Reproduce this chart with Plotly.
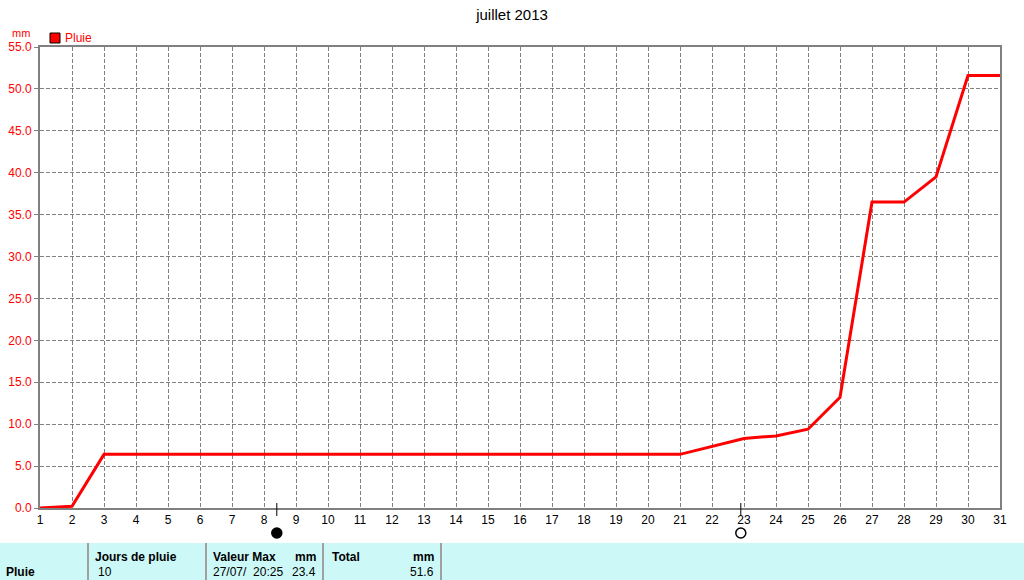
import plotly.graph_objects as go

# cumulative rain, July 2013
days = [1, 2, 3, 21, 23, 24, 25, 26, 27, 28, 29, 30, 31]
rain_mm = [0.0, 0.2, 6.4, 6.4, 8.3, 8.6, 9.4, 13.2, 36.5, 36.5, 39.5, 51.6, 51.6]

x_ticks = list(range(1, 32))
y_ticks = [0, 5, 10, 15, 20, 25, 30, 35, 40, 45, 50, 55]

# moon phases: new moon 8th, full moon 22nd-23rd
moon_days = [8.4, 22.9]
moon_filled = [True, False]

# summary table
table_headers = ["Jours de pluie", "Valeur Max", "mm", "Total", "mm"]
table_values = ["10", "27/07/  20:25", "23.4", "", "51.6"]

W, H = 1024, 580
L, R, T, B = 40, 1000, 47, 508


def px(x):
    return (x - L) / (R - L)


def py(y):
    return (B - y) / (B - T)


fig = go.Figure()

fig.add_trace(go.Scatter(
    x=days, y=rain_mm, mode="lines",
    line=dict(color="#ff0000", width=3),
    showlegend=False, hoverinfo="x+y"
))

shapes = []
# moon tick marks + moon symbols under the axis
for d, filled in zip(moon_days, moon_filled):
    shapes.append(dict(type="line", xref="x", yref="paper", x0=d, x1=d,
                       y0=py(503), y1=py(516), line=dict(color="black", width=1)))
    shapes.append(dict(type="circle", xref="x", yref="paper",
                       xsizemode="pixel", ysizemode="pixel",
                       xanchor=d, yanchor=py(533), x0=-5, x1=5, y0=-5, y1=5,
                       fillcolor="black" if filled else "white",
                       line=dict(color="black", width=1.5)))

# legend square
shapes.append(dict(type="rect", xref="paper", yref="paper",
                   x0=px(50), x1=px(60), y0=py(43), y1=py(33),
                   fillcolor="#ff0000", line=dict(color="black", width=1)))

# table background
shapes.append(dict(type="rect", xref="paper", yref="paper",
                   x0=px(0), x1=px(W), y0=py(H), y1=py(543),
                   fillcolor="#ccf8f8", line=dict(width=0), layer="below"))
for xs in [88, 206, 323, 441]:
    shapes.append(dict(type="line", xref="paper", yref="paper",
                       x0=px(xs), x1=px(xs), y0=py(H), y1=py(543),
                       line=dict(color="#a0a0a0", width=2)))

annotations = [
    dict(text="mm", x=px(21), y=py(33), xref="paper", yref="paper",
         xanchor="center", yanchor="middle",
         showarrow=False, font=dict(color="#ff0000", size=11)),
    dict(text="Pluie", x=px(63), y=py(38), xref="paper", yref="paper",
         xanchor="left", yanchor="middle",
         showarrow=False, font=dict(color="#ff0000", size=12)),
    dict(text="<b>Pluie</b>", x=px(4), y=py(572), xref="paper", yref="paper",
         xanchor="left", yanchor="middle",
         showarrow=False, font=dict(color="black", size=12)),
]

header_x = [93, 211, 318, 330, 436]
value_x = [96, 211, 318, None, 436]
for i, h in enumerate(table_headers):
    anchor = "right" if h == "mm" else "left"
    annotations.append(dict(text="<b>" + h + "</b>", x=px(header_x[i]), y=py(557),
                            xref="paper", yref="paper", xanchor=anchor,
                            yanchor="middle",
                            showarrow=False, font=dict(color="black", size=12)))
for i, v in enumerate(table_values):
    if not v:
        continue
    anchor = "left" if i < 2 else "right"
    annotations.append(dict(text=v, x=px(value_x[i]), y=py(572),
                            xref="paper", yref="paper", xanchor=anchor,
                            yanchor="middle",
                            showarrow=False, font=dict(color="black", size=12)))

fig.update_layout(
    width=W, height=H,
    margin=dict(l=L, r=W - R, t=T, b=H - B, autoexpand=False),
    paper_bgcolor="white", plot_bgcolor="white",
    font=dict(family="Liberation Sans, Arial, sans-serif", size=12),
    title=dict(text="juillet 2013", x=0.5, xanchor="center", y=1 - 15 / H,
               yanchor="middle", font=dict(size=15, color="black")),
    shapes=shapes, annotations=annotations,
    showlegend=False,
)

fig.update_xaxes(
    range=[1, 31], tickvals=x_ticks, ticktext=[str(t) for t in x_ticks],
    showgrid=True, gridcolor="#808080", griddash="4px,2px", gridwidth=1,
    showline=True, linecolor="#808080", linewidth=2, mirror=True,
    zeroline=False, ticks="", tickfont=dict(color="black", size=12),
    automargin=False,
)
fig.update_yaxes(
    range=[0, 55], tickvals=y_ticks, ticktext=["%.1f" % t for t in y_ticks],
    showgrid=True, gridcolor="#808080", griddash="4px,2px", gridwidth=1,
    showline=True, linecolor="#808080", linewidth=2, mirror=True,
    zeroline=False, ticks="outside", ticklen=4, tickcolor="#808080",
    tickfont=dict(color="#ff0000", size=12), automargin=False,
)

# page body has a default 8px margin; drop it so the figure fills the window
fig.write_html("out.html", config={"displayModeBar": False},
               post_script="document.body.style.margin='0';")
